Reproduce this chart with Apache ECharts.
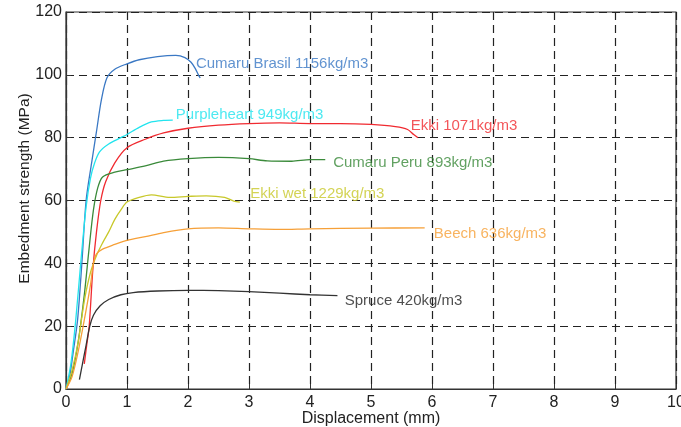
<!DOCTYPE html>
<html>
<head>
<meta charset="utf-8">
<script src="https://cdn.jsdelivr.net/npm/echarts@6/dist/echarts.min.js"></script>
<style>html,body{margin:0;padding:0;background:#fff}#c{width:681px;height:427px}</style>
</head>
<body>
<div id="c"></div>
<script>
// ---- data (displacement mm, embedment strength MPa) ----
const xTicks = [0,1,2,3,4,5,6,7,8,9,10];
const yTicks = [0,20,40,60,80,100,120];

const cumaruBrasil = [[0,0],[0.06,4],[0.12,12],[0.19,22],[0.26,40],[0.33,60],[0.42,72],[0.5,82],[0.58,92],[0.67,99],[0.8,101.8],[1.0,103.5],[1.2,104.8],[1.5,105.8],[1.8,106.2],[1.95,105.5],[2.05,104],[2.12,102],[2.17,100],[2.2,99]];
const purpleheart = [[0,0],[0.08,8],[0.16,22],[0.25,42],[0.33,58],[0.4,67],[0.47,72],[0.55,75.5],[0.7,78],[0.9,80],[1.0,81],[1.2,83.3],[1.4,85],[1.6,85.5],[1.75,85.6]];
const ekki = [[0.3,8],[0.34,14],[0.38,20],[0.44,38],[0.5,50],[0.57,60],[0.65,66],[0.8,72],[1.0,76.8],[1.3,79.5],[1.6,81.5],[2.0,83],[2.5,84],[3.0,84.5],[3.5,84.7],[4.0,84.5],[4.5,84.5],[5.0,84.2],[5.4,83.5],[5.6,82.6],[5.7,81],[5.77,80]];
const cumaruPeru = [[0,0],[0.1,5],[0.2,15],[0.3,30],[0.38,45],[0.45,57],[0.52,64],[0.6,67.5],[0.8,69],[1.0,69.8],[1.3,71],[1.6,72.5],[2.0,73.3],[2.5,73.7],[3.0,73.3],[3.3,72.6],[3.7,72.5],[4.0,73],[4.25,73]];
const ekkiWet = [[0,0],[0.1,6],[0.2,15],[0.3,28],[0.4,37],[0.5,42.5],[0.6,46.5],[0.7,50],[0.8,54],[0.9,57],[1.0,59.5],[1.2,61],[1.4,61.8],[1.7,61],[2.0,61.3],[2.3,61.5],[2.6,61],[2.75,59.8],[2.85,59.5]];
const beech = [[0,0],[0.1,4],[0.2,12],[0.3,22],[0.4,33],[0.45,40],[0.5,43],[0.6,44.5],[0.8,46],[1.0,47.3],[1.3,48.5],[1.6,49.8],[2.0,51],[2.5,51.3],[3.0,51],[3.5,50.8],[4.0,51],[5.0,51.2],[5.88,51.3]];
const spruce = [[0.22,3],[0.27,8],[0.33,14],[0.39,20],[0.45,23.5],[0.56,26.5],[0.7,28.5],[0.9,30],[1.1,30.7],[1.5,31.2],[2.0,31.4],[2.5,31.3],[3.0,31],[3.5,30.5],[4.0,30],[4.45,29.7]];

const labelTexts = ['Cumaru Brasil 1156kg/m3','Purpleheart 949kg/m3','Ekki 1071kg/m3','Cumaru Peru 893kg/m3','Ekki wet 1229kg/m3','Beech 636kg/m3','Spruce 420kg/m3'];
const labelAnchors = [[2.13,103.5],[1.8,87.3],[5.65,83.8],[4.38,72],[3.02,62.2],[6.03,49.5],[4.57,28]];

const curves = [cumaruBrasil, purpleheart, ekki, cumaruPeru, ekkiWet, beech, spruce];
const colors = ['#3a78c4','#22e4ee','#f02a30','#3a8a3a','#c8c82a','#f6a038','#333333'];
const labelColors = ['#3a78c4','#22e4ee','#f02a30','#3a8a3a','#c8c82a','#f6a038','#222222'];

const chart = echarts.init(document.getElementById('c'));
const series = [];
curves.forEach((d,i)=>{
  series.push({type:'line', data:d, showSymbol:false, smooth:0.3, silent:true,
    lineStyle:{color:colors[i], width:1.3}, z:3});
});
labelTexts.forEach((t,i)=>{
  series.push({type:'scatter', data:[labelAnchors[i]], symbolSize:0, silent:true, z:4,
    label:{show:true, position:'right', distance:0, formatter:t, color:labelColors[i],
      fontFamily:'Liberation Sans, Arial, sans-serif', fontSize:15}});
});

const axisLabelStyle = {color:'#222', fontFamily:'Liberation Sans, Arial, sans-serif', fontSize:16};
chart.setOption({
  animation:false,
  grid:{left:66, right:5, top:12, bottom:38, show:true, borderColor:'#333', borderWidth:1.2,
    outerBoundsMode:'none', containLabel:false},
  xAxis:{type:'value', min:0, max:10, interval:1,
    name:'Displacement (mm)', nameLocation:'middle', nameGap:22, nameMoveOverlap:false,
    nameTextStyle:axisLabelStyle,
    axisLine:{lineStyle:{color:'#333', width:1.2}},
    axisTick:{inside:true, length:5, lineStyle:{color:'#333'}},
    axisLabel:Object.assign({margin:6}, axisLabelStyle),
    splitLine:{show:true, lineStyle:{color:'#222', type:[8,5], width:1.2}}},
  yAxis:{type:'value', min:0, max:120, interval:20,
    name:'Embedment strength (MPa)', nameLocation:'middle', nameGap:33, nameMoveOverlap:false,
    nameTextStyle:Object.assign({}, axisLabelStyle, {fontSize:15.5, padding:[0,0,0,24]}),
    axisLine:{show:true, lineStyle:{color:'#333', width:1.2}},
    axisTick:{show:true, inside:true, length:5, lineStyle:{color:'#333'}},
    axisLabel:Object.assign({margin:4}, axisLabelStyle),
    splitLine:{show:true, lineStyle:{color:'#222', type:[8,5], width:1.2}}},
  series:series
});
</script>
</body>
</html>
